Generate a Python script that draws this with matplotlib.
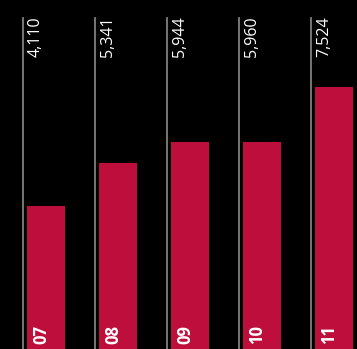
import matplotlib
matplotlib.use("Agg")
import matplotlib.pyplot as plt
import matplotlib.transforms as mtransforms

years = ["07", "08", "09", "10", "11"]
values = [4110, 5341, 5944, 5960, 7524]
value_labels = ["4,110", "5,341", "5,944", "5,960", "7,524"]

bar_color = "#BE0E3C"
line_color = "#8C8C8C"

fig = plt.figure(figsize=(3.57, 3.49), dpi=100, facecolor="black")
ax = fig.add_axes([0, 0, 1, 1], facecolor="black")

step = 72.0  # pixels between groups
ax.set_xlim(-23 / step, (357 - 23) / step)
ax.set_ylim(0, 10040)

xs = list(range(len(values)))
ax.bar([x + 4 / step for x in xs], values, width=38 / step, align="edge",
       color=bar_color, zorder=2)

trans = mtransforms.blended_transform_factory(ax.transData, ax.transAxes)
for x, lab, yr in zip(xs, value_labels, years):
    ax.axvline(x, ymin=0, ymax=1 - 18 / 349, color=line_color, lw=1.2, zorder=1)
    ax.text(x + 5 / step, 1 - 16 / 349, lab, transform=trans, rotation=90,
            ha="left", va="top", color="white", fontsize=11.5,
            family="Open Sans")
    ax.text(x + 9 / step, 5 / 349, yr, transform=trans, rotation=90,
            ha="left", va="bottom", color="white", fontsize=12,
            family="Open Sans", fontweight="bold", zorder=3)

ax.axis("off")
fig.savefig("out.png", dpi=100, facecolor="black")
